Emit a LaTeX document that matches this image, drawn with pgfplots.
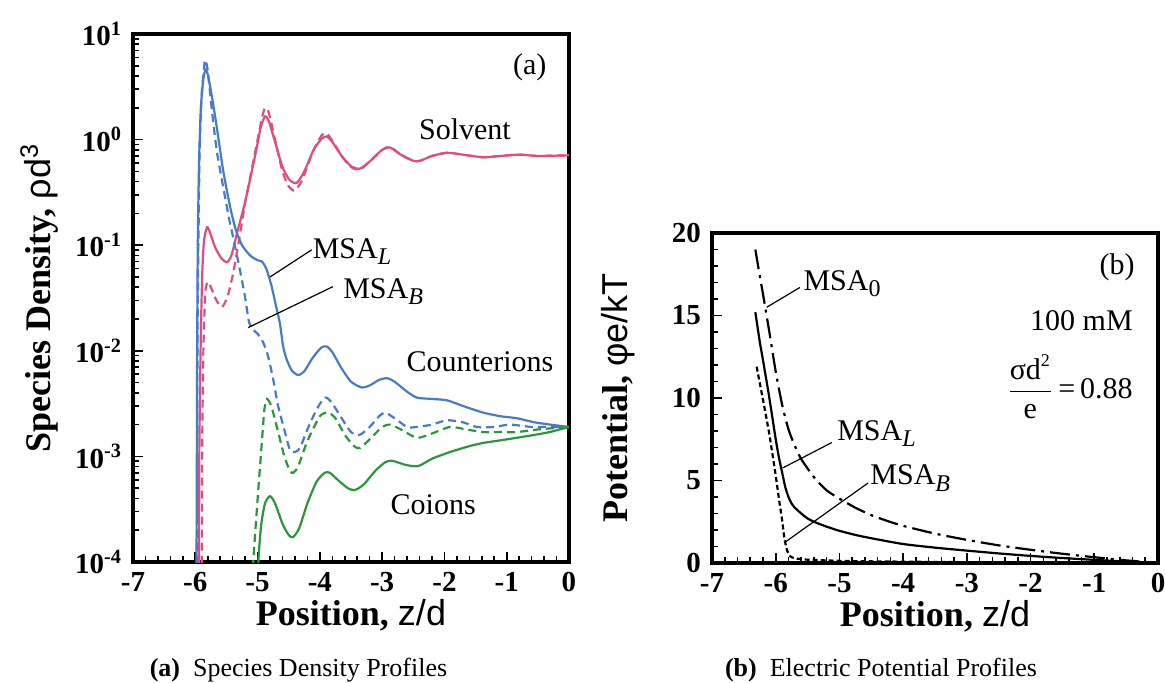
\documentclass[border=0pt]{standalone}
\usepackage{pgfplots}
\pgfplotsset{compat=1.18}
\usepackage{fontspec}
\setmainfont{Liberation Serif}
\newfontfamily\arialfont{Liberation Sans}

\definecolor{solv}{RGB}{222,78,122}
\definecolor{cion}{RGB}{72,122,198}
\definecolor{coion}{RGB}{44,150,62}

\newcommand\sub[1]{\raisebox{-0.45ex}{\fontsize{12}{12}\selectfont #1}}

\pgfplotsset{
  panel/.style={
    scale only axis,
    axis line style={line width=1.6pt},
    every tick/.style={black, line width=0.8pt},
    tick align=inside,
    tick pos=left,
    major tick length=5pt,
    minor tick length=3pt,
    xmin=-7, xmax=0,
    xtick={-7,-6,-5,-4,-3,-2,-1,0},
    xticklabels={-7,-6,-5,-4,-3,-2,-1,0},
    minor x tick num=4,
    ticklabel style={font=\fontsize{14.5}{16}\selectfont\bfseries},
    xticklabel style={yshift=-1.5pt},
    yticklabel style={xshift=-2pt},
    label style={font=\fontsize{18}{22}\selectfont},
  },
  sol/.style={line width=1.1pt, smooth, tension=0.4},
  das/.style={line width=1.1pt, smooth, tension=0.4, dash pattern=on 4pt off 2.5pt},
}

\begin{document}
\begin{tikzpicture}
\path[use as bounding box] (0,0) rectangle (582.5pt,341.5pt);

% ---------- (a) species density profiles ----------
\begin{axis}[panel,
  at={(66.5pt,60.5pt)}, anchor=south west,
  width=218pt, height=264pt,
  ymode=log, ymin=1e-4, ymax=10,
  ytick={1e-4,1e-3,1e-2,1e-1,1,10},
  yticklabels={10\textsuperscript{-4},10\textsuperscript{-3},10\textsuperscript{-2},10\textsuperscript{-1},10\textsuperscript{0},10\textsuperscript{1}},
  minor ytick={2e-4,3e-4,4e-4,5e-4,6e-4,7e-4,8e-4,9e-4,
               2e-3,3e-3,4e-3,5e-3,6e-3,7e-3,8e-3,9e-3,
               2e-2,3e-2,4e-2,5e-2,6e-2,7e-2,8e-2,9e-2,
               0.2,0.3,0.4,0.5,0.6,0.7,0.8,0.9,
               2,3,4,5,6,7,8,9},
  xlabel={\textbf{Position,} {\arialfont z/d}},
  ylabel={\textbf{Species Density,} {\arialfont ρd\textsuperscript{3}}},
  xlabel style={at={(axis description cs:0.5,-0.1)}, anchor=center},
  ylabel style={at={(axis description cs:-0.215,0.5)}, anchor=center},
]
% solvent
\addplot[sol, solv] coordinates {
(-5.945,1e-5) (-5.935,1e-3) (-5.915,0.01) (-5.89,0.05) (-5.86,0.11) (-5.81,0.148)
(-5.76,0.13) (-5.68,0.095) (-5.58,0.075) (-5.49,0.069) (-5.42,0.08) (-5.33,0.13)
(-5.22,0.23) (-5.12,0.42) (-5.02,0.8) (-4.95,1.3) (-4.88,1.66) (-4.82,1.5)
(-4.72,0.95) (-4.6,0.55) (-4.48,0.41) (-4.37,0.39) (-4.25,0.5) (-4.1,0.8)
(-3.97,1.02) (-3.89,1.07) (-3.8,0.95) (-3.65,0.7) (-3.5,0.56) (-3.36,0.53)
(-3.2,0.62) (-3.0,0.8) (-2.87,0.84) (-2.7,0.72) (-2.5,0.63) (-2.39,0.63)
(-2.2,0.7) (-1.96,0.75) (-1.7,0.72) (-1.38,0.68) (-1.1,0.7) (-0.8,0.72)
(-0.5,0.7) (0,0.71)};
\addplot[das, solv] coordinates {
(-5.9,1e-5) (-5.89,1e-3) (-5.87,0.01) (-5.84,0.035) (-5.8,0.045) (-5.75,0.04)
(-5.66,0.03) (-5.57,0.026) (-5.48,0.033) (-5.39,0.055) (-5.3,0.11) (-5.2,0.25)
(-5.1,0.5) (-5.0,1.0) (-4.93,1.6) (-4.88,2.0) (-4.82,1.8) (-4.72,1.0)
(-4.6,0.5) (-4.5,0.36) (-4.4,0.33) (-4.28,0.42) (-4.12,0.75) (-3.97,1.1)
(-3.9,1.15) (-3.8,0.98) (-3.65,0.7) (-3.5,0.55) (-3.36,0.52) (-3.2,0.62)
(-3.0,0.8) (-2.87,0.85) (-2.7,0.72) (-2.5,0.63) (-2.39,0.63) (-2.2,0.7)
(-1.96,0.75) (-1.7,0.72) (-1.38,0.68) (-1.1,0.7) (-0.8,0.72) (-0.5,0.7) (0,0.71)};
% counterions
\addplot[sol, cion] coordinates {
(-5.985,1e-5) (-5.975,1e-3) (-5.97,0.01) (-5.96,0.1) (-5.94,0.6) (-5.91,2.0)
(-5.87,3.8) (-5.83,4.6) (-5.79,3.9) (-5.72,2.3) (-5.65,1.25) (-5.55,0.5)
(-5.44,0.23) (-5.35,0.14) (-5.25,0.1) (-5.12,0.08) (-5.0,0.072) (-4.93,0.07)
(-4.86,0.06) (-4.78,0.042) (-4.7,0.026) (-4.64,0.018) (-4.59,0.011) (-4.53,0.0082)
(-4.45,0.0065) (-4.35,0.0059) (-4.25,0.0064) (-4.12,0.0085) (-3.98,0.0107) (-3.89,0.011)
(-3.8,0.0097) (-3.65,0.0068) (-3.5,0.0051) (-3.33,0.0045) (-3.2,0.0047) (-3.05,0.0053)
(-2.92,0.0055) (-2.8,0.0051) (-2.6,0.0041) (-2.44,0.0036) (-2.2,0.0035) (-1.96,0.0034)
(-1.7,0.003) (-1.38,0.0026) (-1.1,0.0024) (-0.84,0.0023) (-0.55,0.0021) (-0.3,0.002) (0,0.0019)};
\addplot[das, cion] coordinates {
(-5.975,1e-5) (-5.965,0.01) (-5.95,0.1) (-5.93,0.8) (-5.9,2.5) (-5.86,4.8)
(-5.84,5.7) (-5.8,4.5) (-5.72,1.6) (-5.65,0.75) (-5.55,0.35) (-5.45,0.17)
(-5.38,0.11) (-5.28,0.057) (-5.2,0.032) (-5.14,0.019) (-5.08,0.016) (-5.0,0.0145)
(-4.91,0.012) (-4.83,0.0088) (-4.75,0.0054) (-4.67,0.003) (-4.56,0.0017) (-4.48,0.00115)
(-4.4,0.0011) (-4.32,0.0012) (-4.2,0.0018) (-4.05,0.0028) (-3.92,0.0036) (-3.82,0.0033)
(-3.65,0.0023) (-3.5,0.0017) (-3.36,0.0016) (-3.2,0.0019) (-3.05,0.0024) (-2.95,0.0026)
(-2.8,0.0023) (-2.6,0.0019) (-2.44,0.0019) (-2.2,0.002) (-1.96,0.0022) (-1.7,0.0021)
(-1.48,0.0019) (-1.2,0.0019) (-0.95,0.002) (-0.6,0.0019) (-0.3,0.0019) (0,0.0019)};
% coions
\addplot[sol, coion] coordinates {
(-5.01,5e-5) (-4.98,1.2e-4) (-4.94,2.3e-4) (-4.88,3.6e-4) (-4.8,4.2e-4) (-4.72,3.6e-4)
(-4.6,2.3e-4) (-4.5,1.8e-4) (-4.43,1.72e-4) (-4.33,2.1e-4) (-4.2,3.6e-4) (-4.05,5.8e-4)
(-3.92,7e-4) (-3.84,7e-4) (-3.7,5.9e-4) (-3.55,5e-4) (-3.44,4.8e-4) (-3.3,5.4e-4)
(-3.1,7.4e-4) (-2.95,8.8e-4) (-2.84,9.1e-4) (-2.62,8.3e-4) (-2.42,8.1e-4) (-2.2,9.5e-4)
(-1.91,1.1e-3) (-1.6,1.25e-3) (-1.38,1.34e-3) (-1.1,1.42e-3) (-0.84,1.5e-3) (-0.55,1.6e-3)
(-0.31,1.7e-3) (0,1.9e-3)};
\addplot[das, coion] coordinates {
(-5.09,5e-5) (-5.07,1e-4) (-5.0,3.9e-4) (-4.93,1.4e-3) (-4.89,2.8e-3) (-4.85,3.5e-3)
(-4.78,3e-3) (-4.68,1.8e-3) (-4.57,1e-3) (-4.48,7.3e-4) (-4.43,7e-4) (-4.35,8e-4)
(-4.2,1.4e-3) (-4.0,2.4e-3) (-3.87,2.6e-3) (-3.75,2.3e-3) (-3.6,1.6e-3) (-3.45,1.25e-3)
(-3.36,1.2e-3) (-3.2,1.45e-3) (-3.0,1.9e-3) (-2.87,2.0e-3) (-2.7,1.8e-3) (-2.44,1.5e-3)
(-2.2,1.65e-3) (-1.91,1.9e-3) (-1.65,1.8e-3) (-1.38,1.7e-3) (-1.1,1.7e-3) (-0.84,1.7e-3)
(-0.5,1.8e-3) (0,1.9e-3)};
% leader lines and labels
\draw[line width=0.6pt] (-4.80,0.050) -- (-4.13,0.0905);
\draw[line width=0.6pt] (-5.15,0.0166) -- (-3.79,0.0405);
\begin{scope}[every node/.style={font=\fontsize{15}{18}\selectfont, inner sep=0pt}]
\node[anchor=base west] at (-4.12,0.0745) {MSA\sub{\textit{L}}};
\node[anchor=base west] at (-3.63,0.0316) {MSA\sub{\textit{B}}};
\node at (-1.67,1.24) {Solvent};
\node at (-1.43,0.00787) {Counterions};
\node at (-2.18,3.46e-4) {Coions};
\node at (-0.63,4.82) {(a)};
\end{scope}
\end{axis}

% ---------- (b) electric potential profiles ----------
\begin{axis}[panel,
  at={(356pt,60pt)}, anchor=south west,
  width=223pt, height=165pt,
  ymin=0, ymax=20,
  ytick={0,5,10,15,20},
  yticklabels={0,5,10,15,20},
  minor y tick num=4,
  xlabel={\textbf{Position,} {\arialfont z/d}},
  ylabel={\textbf{Potential,} {\arialfont φe/kT}},
  xlabel style={at={(axis description cs:0.5,-0.16)}, anchor=center},
  ylabel style={at={(axis description cs:-0.21,0.5)}, anchor=center},
]
% MSA_0
\addplot[black, line width=1.1pt, smooth, tension=0.4,
  dash pattern=on 10pt off 3pt on 1.5pt off 3pt] coordinates {
(-6.32,19.0) (-6.25,17.4) (-6.2,16.3) (-6.1,14.0) (-6.0,11.6) (-5.9,9.6)
(-5.8,8.1) (-5.7,7.1) (-5.6,6.3) (-5.4,5.2) (-5.2,4.4) (-5.0,3.9)
(-4.75,3.35) (-4.5,2.9) (-4.25,2.55) (-4.0,2.25) (-3.5,1.78) (-3.0,1.4)
(-2.5,1.07) (-2.0,0.8) (-1.5,0.56) (-1.0,0.35) (-0.5,0.16) (0,0.0)};
% MSA_L
\addplot[black, line width=1.1pt, smooth, tension=0.4] coordinates {
(-6.32,15.2) (-6.25,13.4) (-6.2,12.3) (-6.1,10.0) (-6.0,7.5) (-5.95,6.4)
(-5.9,5.5) (-5.85,4.6) (-5.8,4.0) (-5.75,3.6) (-5.7,3.35) (-5.6,3.0)
(-5.5,2.7) (-5.4,2.5) (-5.2,2.2) (-5.0,1.95) (-4.75,1.7) (-4.5,1.5)
(-4.0,1.15) (-3.5,0.93) (-3.0,0.75) (-2.5,0.58) (-2.0,0.43) (-1.5,0.3)
(-1.0,0.19) (-0.5,0.09) (0,0.0)};
% MSA_B
\addplot[black, line width=1.1pt, smooth, tension=0.3,
  dash pattern=on 2.5pt off 1.5pt] coordinates {
(-6.3,11.9) (-6.2,9.9) (-6.1,7.8) (-6.0,5.3) (-5.95,3.9) (-5.9,2.6)
(-5.86,1.4) (-5.82,0.75) (-5.77,0.4) (-5.7,0.28) (-5.5,0.2) (-5.0,0.13)
(-4.5,0.1) (-4.0,0.08) (-3.0,0.05) (-2.0,0.03) (-1.0,0.015) (0,0.0)};
% leader lines and labels
\draw[line width=0.6pt] (-6.14,15.5) -- (-5.62,16.7);
\draw[line width=0.6pt] (-5.89,5.76) -- (-5.12,7.3);
\draw[line width=0.6pt] (-5.85,1.27) -- (-4.55,4.85);
\begin{scope}[every node/.style={font=\fontsize{15}{18}\selectfont, inner sep=0pt}]
\node[anchor=base west] at (-5.57,16.5) {MSA\sub{0}};
\node[anchor=base west] at (-5.04,7.45) {MSA\sub{\textit{L}}};
\node[anchor=base west] at (-4.52,4.73) {MSA\sub{\textit{B}}};
\node at (-0.64,17.9) {(b)};
\node[anchor=east] at (-0.39,14.7) {100 mM};
\node[anchor=east] at (-0.39,10.67)
  {$\displaystyle\frac{\mbox{σd}^{\mbox{\fontsize{9}{9}\selectfont 2}}}{\mbox{e}}$\,=\,0.88};
\end{scope}
\end{axis}

% sub-captions
\node[anchor=base, font=\fontsize{13}{15}\selectfont] at (149.25pt,3pt)
  {\textbf{(a)}\enspace Species Density Profiles};
\node[anchor=base, font=\fontsize{13}{15}\selectfont] at (440.5pt,3pt)
  {\textbf{(b)}\enspace Electric Potential Profiles};
\end{tikzpicture}
\end{document}
